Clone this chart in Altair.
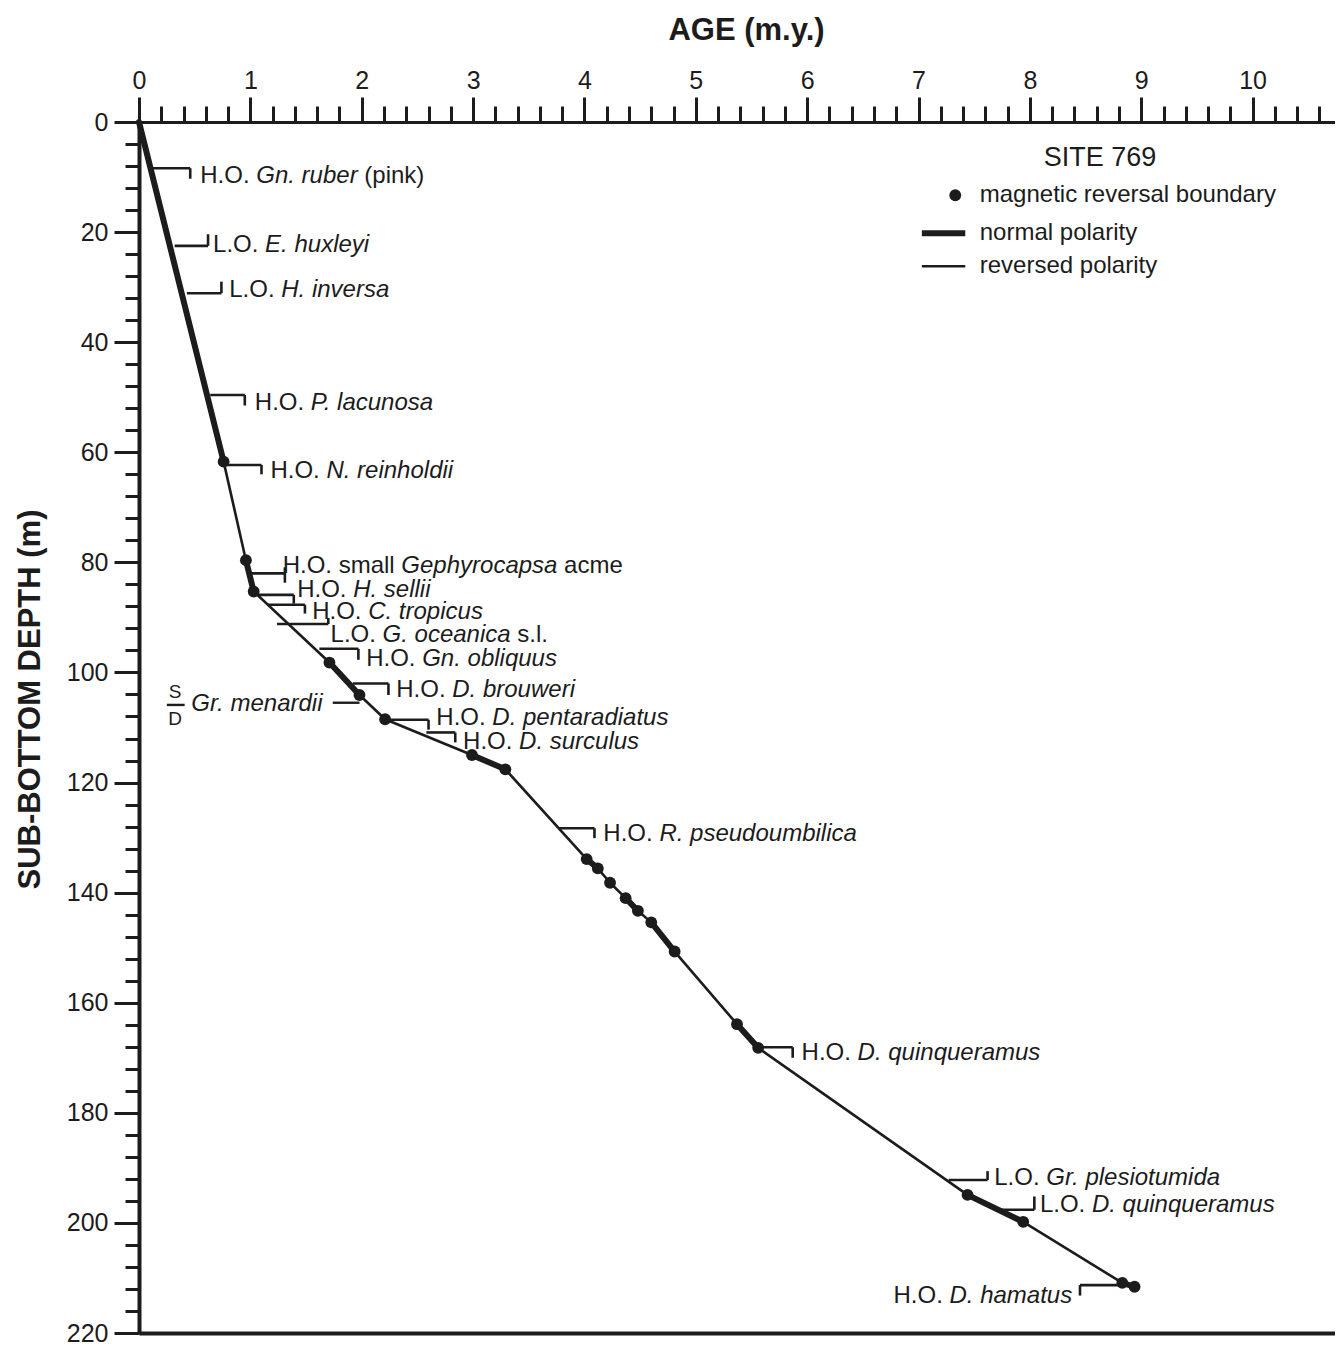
import altair as alt
import pandas as pd

# ---------------- data ----------------
# age-depth curve vertices (m.y., m)
curve_age = [0.0, 0.76, 0.96, 1.03, 1.71, 1.98, 2.21, 2.99, 3.29, 4.02, 4.12, 4.23,
             4.37, 4.48, 4.60, 4.81, 5.37, 5.56, 7.44, 7.94, 8.83, 8.94]
curve_depth = [0.0, 61.7, 79.6, 85.3, 98.2, 104.1, 108.5, 115.0, 117.6, 133.9, 135.6, 138.2,
               141.0, 143.3, 145.4, 150.7, 163.9, 168.2, 194.9, 199.8, 210.9, 211.6]
# polarity of each segment between consecutive vertices (N normal, R reversed)
seg_polarity = ["N", "R", "N", "R", "N", "R", "R", "N", "R", "N", "R",
                "R", "N", "R", "N", "R", "N", "R", "N", "R", "N"]
# magnetic reversal boundaries = every vertex except the origin
dot_age = curve_age[1:]
dot_depth = curve_depth[1:]

# biostratigraphic datum brackets
br_depth = [8.4, 22.5, 31.1, 49.6, 62.3, 82.0, 85.9, 87.7, 91.2, 95.7, 102.0, 108.6,
            110.9, 128.3, 168.1, 192.2, 197.6, 211.3]
br_from = [0.12, 0.32, 0.43, 0.64, 0.76, 0.99, 1.07, 1.15, 1.24, 1.62, 1.92, 2.22,
           2.58, 3.77, 5.56, 7.27, 7.72, 8.83]
br_to = [0.46, 0.62, 0.74, 0.95, 1.10, 1.31, 1.39, 1.49, 1.70, 1.97, 2.24, 2.60,
         2.84, 4.09, 5.87, 7.62, 8.04, 8.45]
br_tick_top = [8.4, 20.4, 29.0, 49.6, 62.3, 80.9, 85.9, 87.7, 90.1, 95.7, 102.0, 108.6,
               110.9, 128.3, 168.1, 190.6, 195.2, 211.3]
br_tick_bot = [10.3, 22.5, 31.1, 51.5, 64.0, 83.7, 87.5, 89.3, 91.2, 97.7, 104.1, 110.4,
               112.7, 130.1, 170.0, 192.2, 197.6, 213.2]

# labels: prefix (roman), species (italic), suffix (roman)
lab_pre = ["H.O.", "L.O.", "L.O.", "H.O.", "H.O.", "H.O. small", "H.O.", "H.O.", "L.O.",
           "H.O.", "H.O.", "H.O.", "H.O.", "H.O.", "H.O.", "L.O.", "L.O.", "H.O."]
lab_sp = ["Gn. ruber", "E. huxleyi", "H. inversa", "P. lacunosa", "N. reinholdii",
          "Gephyrocapsa", "H. sellii", "C. tropicus", "G. oceanica", "Gn. obliquus",
          "D. brouweri", "D. pentaradiatus", "D. surculus", "R. pseudoumbilica",
          "D. quinqueramus", "Gr. plesiotumida", "D. quinqueramus", "D. hamatus"]
lab_suf = ["(pink)", "", "", "", "", "acme", "", "", "s.l.", "", "", "", "", "", "", "", "", ""]
lab_age = [0.55, 0.665, 0.81, 1.04, 1.18, 1.29, 1.42, 1.555, 1.72, 2.04, 2.31, 2.67,
           2.91, 4.17, 5.95, 7.68, 8.09, 8.38]
lab_depth = [9.9, 22.3, 30.6, 51.0, 63.4, 80.6, 85.1, 89.0, 93.2, 97.5, 103.2, 108.3,
             112.6, 129.3, 169.2, 191.9, 196.8, 213.2]
lab_align = ["left"] * 17 + ["right"]

# S/D Gr. menardii
men_text = "Gr. menardii"
men_age, men_depth = 0.47, 105.8
men_line_from, men_line_to, men_line_depth = 1.74, 1.98, 105.5
frac_top, frac_bot = "S", "D"
frac_age, frac_top_depth, frac_bot_depth = 0.325, 103.5, 108.4
frac_bar_from, frac_bar_to, frac_bar_depth = 0.25, 0.41, 105.9

# legend
legend_title = "SITE 769"
legend_title_age, legend_title_depth = 8.63, 6.5
legend_items = ["magnetic reversal boundary", "normal polarity", "reversed polarity"]
legend_item_depth = [13.3, 20.2, 26.2]
legend_text_age = 7.55
legend_dot_age = 7.33
legend_line_from, legend_line_to = 7.03, 7.42

x_major = list(range(0, 11))
x_minor = [round(0.2 * i, 1) for i in range(54)]
y_major = list(range(0, 221, 20))
y_minor = list(range(0, 221, 4))

# ---------------- geometry / style ----------------
INK = "#1c1c1c"
FONT = "Liberation Sans"
PW, PH = 1196, 1211
XMAX = 10.74
PXU = PW / XMAX
FS = 24

ARIAL = {" ": 278, "(": 333, ")": 333, ".": 278, "-": 333,
         "A": 667, "B": 667, "C": 722, "D": 722, "E": 667, "F": 611, "G": 778, "H": 722,
         "I": 278, "J": 500, "K": 667, "L": 556, "M": 833, "N": 722, "O": 778, "P": 667,
         "Q": 778, "R": 722, "S": 667, "T": 611, "U": 722, "V": 667, "W": 944, "X": 667,
         "Y": 667, "Z": 611,
         "a": 556, "b": 556, "c": 500, "d": 556, "e": 556, "f": 278, "g": 556, "h": 556,
         "i": 222, "j": 222, "k": 500, "l": 222, "m": 833, "n": 556, "o": 556, "p": 556,
         "q": 556, "r": 333, "s": 500, "t": 278, "u": 556, "v": 500, "w": 722, "x": 500,
         "y": 500, "z": 500}


def tw(s, size=FS):
    return sum(ARIAL.get(c, 556) for c in s) * size / 1000.0


# curve segments
seg_rows = []
for i, pol in enumerate(seg_polarity):
    for j in (i, i + 1):
        seg_rows.append({"seg": i, "pol": pol, "age": curve_age[j], "depth": curve_depth[j]})
seg_df = pd.DataFrame(seg_rows)
dot_df = pd.DataFrame({"age": dot_age, "depth": dot_depth})

br_df = pd.DataFrame({"d": br_depth, "x0": br_from, "x1": br_to,
                      "t0": br_tick_top, "t1": br_tick_bot})
extra_lines = pd.DataFrame({"d": [men_line_depth, frac_bar_depth],
                            "x0": [men_line_from, frac_bar_from],
                            "x1": [men_line_to, frac_bar_to],
                            "w": ["a", "b"]})

# label parts
parts = []
for pre, sp, suf, a, d, al in zip(lab_pre, lab_sp, lab_suf, lab_age, lab_depth, lab_align):
    segs = [(pre, "n"), (sp, "i")] + ([(suf, "n")] if suf else [])
    total = sum(tw(s) for s, _ in segs) + tw(" ") * (len(segs) - 1)
    start = a if al == "left" else a - total / PXU
    off = 0.0
    for s, st in segs:
        parts.append({"age": start + off / PXU, "depth": d, "text": s, "st": st})
        off += tw(s) + tw(" ")
parts.append({"age": men_age, "depth": men_depth, "text": men_text, "st": "i"})
parts_df = pd.DataFrame(parts)

frac_df = pd.DataFrame({"age": [frac_age, frac_age], "depth": [frac_top_depth, frac_bot_depth],
                        "text": [frac_top, frac_bot]})

leg_text_df = pd.DataFrame({"age": [legend_text_age] * 3, "depth": legend_item_depth,
                            "text": legend_items})
leg_title_df = pd.DataFrame({"age": [legend_title_age], "depth": [legend_title_depth],
                             "text": [legend_title]})
leg_dot_df = pd.DataFrame({"age": [legend_dot_age], "depth": [legend_item_depth[0]]})
leg_line_df = pd.DataFrame({"x0": [legend_line_from] * 2, "x1": [legend_line_to] * 2,
                            "d": legend_item_depth[1:], "pol": ["N", "R"]})

xs = alt.Scale(domain=[0, XMAX], nice=False, zero=False)
ys = alt.Scale(domain=[0, 220], reverse=True, nice=False, zero=False)
sw = alt.Scale(domain=["N", "R"], range=[6, 2.6])

ax_top_major = alt.Axis(orient="top", values=x_major, tickSize=25, tickWidth=3, domainWidth=3,
                        domainColor=INK, tickColor=INK, labelColor=INK, labelFont=FONT,
                        labelFontSize=25, labelPadding=4, labelFlush=False, labelOverlap=False,
                        grid=False, title="AGE (m.y.)", titleFont=FONT, titleFontSize=31,
                        titleFontWeight="bold", titleColor=INK, titleX=607, titleY=-92,
                        titleAlign="center", titleBaseline="middle")
ax_top_minor = alt.Axis(orient="top", values=x_minor, tickSize=16, tickWidth=3, tickColor=INK,
                        labels=False, domain=False, grid=False, title=None)
ax_left_major = alt.Axis(orient="left", values=y_major, tickSize=25, tickWidth=3, domainWidth=4,
                         domainColor=INK, tickColor=INK, labelColor=INK, labelFont=FONT,
                         labelFontSize=25, labelPadding=6, labelFlush=False, labelOverlap=False,
                         grid=False, title="SUB-BOTTOM DEPTH (m)", titleFont=FONT,
                         titleFontSize=31, titleFontWeight="bold", titleColor=INK,
                         titleAngle=270, titleX=-109, titleY=577, titleAlign="center",
                         titleBaseline="middle")
ax_left_minor = alt.Axis(orient="left", values=y_minor, tickSize=14, tickWidth=3, tickColor=INK,
                         labels=False, domain=False, grid=False, title=None)
ax_bottom = alt.Axis(orient="bottom", ticks=False, labels=False, domain=True, domainWidth=4,
                     domainColor=INK, grid=False, title=None)

curve = alt.Chart(seg_df).mark_line(color=INK, strokeCap="round").encode(
    x=alt.X("age:Q", scale=xs, axis=ax_top_major),
    y=alt.Y("depth:Q", scale=ys, axis=ax_left_major),
    detail="seg:N",
    strokeWidth=alt.StrokeWidth("pol:N", scale=sw, legend=None),
)
dots = alt.Chart(dot_df).mark_circle(size=140, color=INK, opacity=1).encode(
    x=alt.X("age:Q", scale=xs, axis=ax_top_minor),
    y=alt.Y("depth:Q", scale=ys, axis=ax_left_minor),
)
br_h = alt.Chart(br_df).mark_rule(color=INK, strokeWidth=2.6).encode(
    x=alt.X("x0:Q", scale=xs, axis=ax_bottom),
    x2="x1:Q",
    y=alt.Y("d:Q", scale=ys, axis=None),
)
br_v = alt.Chart(br_df).mark_rule(color=INK, strokeWidth=2.6).encode(
    x=alt.X("x1:Q", scale=xs, axis=None),
    y=alt.Y("t0:Q", scale=ys, axis=None),
    y2="t1:Q",
)
extra = alt.Chart(extra_lines).mark_rule(color=INK, strokeWidth=2.4).encode(
    x=alt.X("x0:Q", scale=xs, axis=None),
    x2="x1:Q",
    y=alt.Y("d:Q", scale=ys, axis=None),
)
txt_n = alt.Chart(parts_df).transform_filter(alt.datum.st == "n").mark_text(
    align="left", baseline="middle", font=FONT, fontSize=FS, color=INK).encode(
    x=alt.X("age:Q", scale=xs, axis=None),
    y=alt.Y("depth:Q", scale=ys, axis=None),
    text="text:N",
)
txt_i = alt.Chart(parts_df).transform_filter(alt.datum.st == "i").mark_text(
    align="left", baseline="middle", font=FONT, fontSize=FS, fontStyle="italic", color=INK).encode(
    x=alt.X("age:Q", scale=xs, axis=None),
    y=alt.Y("depth:Q", scale=ys, axis=None),
    text="text:N",
)
frac = alt.Chart(frac_df).mark_text(align="center", baseline="middle", font=FONT, fontSize=19,
                                    color=INK).encode(
    x=alt.X("age:Q", scale=xs, axis=None),
    y=alt.Y("depth:Q", scale=ys, axis=None),
    text="text:N",
)
leg_title_l = alt.Chart(leg_title_df).mark_text(align="center", baseline="middle", font=FONT,
                                                fontSize=27, color=INK).encode(
    x=alt.X("age:Q", scale=xs, axis=None),
    y=alt.Y("depth:Q", scale=ys, axis=None),
    text="text:N",
)
leg_text_l = alt.Chart(leg_text_df).mark_text(align="left", baseline="middle", font=FONT,
                                              fontSize=FS, color=INK).encode(
    x=alt.X("age:Q", scale=xs, axis=None),
    y=alt.Y("depth:Q", scale=ys, axis=None),
    text="text:N",
)
leg_dot_l = alt.Chart(leg_dot_df).mark_circle(size=140, color=INK, opacity=1).encode(
    x=alt.X("age:Q", scale=xs, axis=None),
    y=alt.Y("depth:Q", scale=ys, axis=None),
)
leg_line_l = alt.Chart(leg_line_df).mark_rule(color=INK).encode(
    x=alt.X("x0:Q", scale=xs, axis=None),
    x2="x1:Q",
    y=alt.Y("d:Q", scale=ys, axis=None),
    strokeWidth=alt.StrokeWidth("pol:N", scale=sw, legend=None),
)

chart = alt.layer(
    curve, dots, br_h, br_v, extra, txt_n, txt_i, frac,
    leg_title_l, leg_text_l, leg_dot_l, leg_line_l,
).resolve_axis(x="independent", y="independent").properties(
    width=PW, height=PH,
    padding={"left": 131, "top": 114, "right": 0, "bottom": 10},
    autosize=alt.AutoSizeParams(type="none"),
    background="white",
).configure_view(stroke=None)

chart.save("out.html", embed_options={"renderer": "svg", "actions": False})
